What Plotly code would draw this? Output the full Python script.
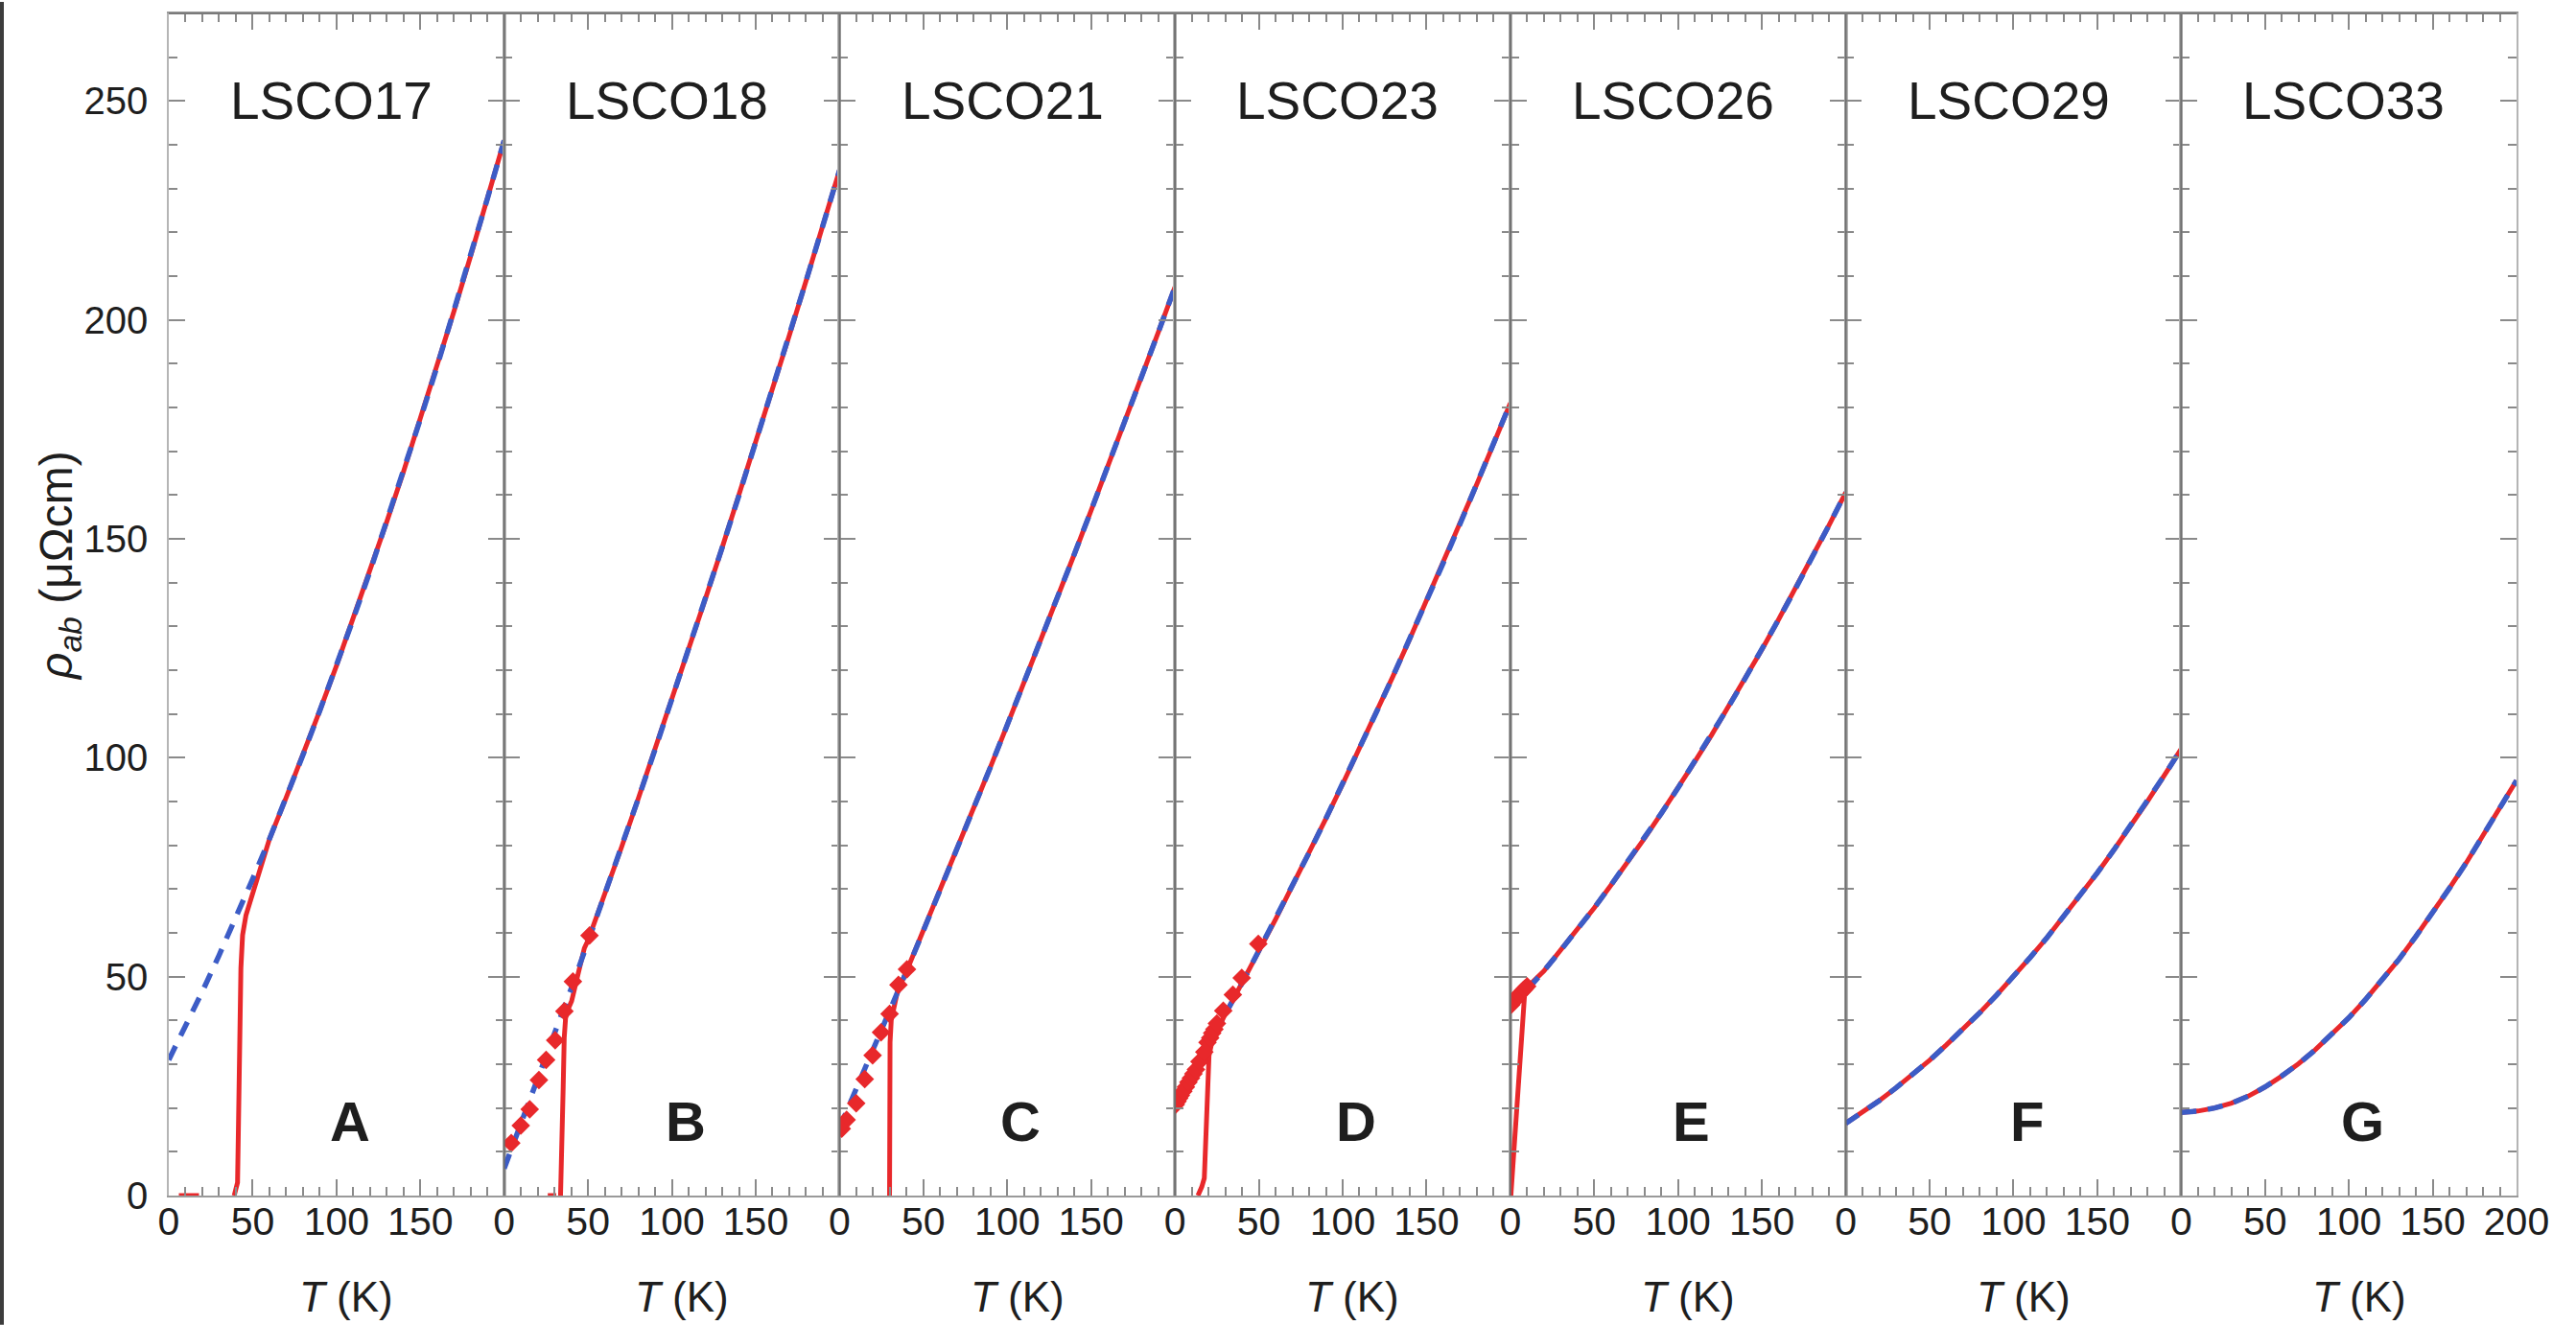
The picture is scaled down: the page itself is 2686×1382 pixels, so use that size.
import plotly.graph_objects as go

# ---------------- data ----------------
SAMPLES = ["LSCO17", "LSCO18", "LSCO21", "LSCO23", "LSCO26", "LSCO29", "LSCO33"]
LETTERS = ["A", "B", "C", "D", "E", "F", "G"]

T_FIT = [0, 10, 20, 30, 40, 50, 60, 70, 80, 90, 100, 110, 120, 130, 140, 150, 160, 170, 180, 190, 200]
FIT_A = [31.0, 38.7, 46.6, 54.9, 63.4, 72.3, 81.4, 90.9, 100.6, 110.7, 121.0, 131.7, 142.6, 153.9, 165.4, 177.3, 189.4, 201.9, 214.6, 227.7, 241.0]
FIT_B = [6.2, 16.3, 26.5, 36.8, 47.3, 58.0, 68.7, 79.6, 90.7, 101.9, 113.2, 124.7, 136.3, 148.0, 159.9, 172.0, 184.1, 196.4, 208.9, 221.5, 234.2]
FIT_C = [15.5, 24.3, 33.3, 42.3, 51.3, 60.5, 69.7, 79.1, 88.5, 97.9, 107.5, 117.1, 126.9, 136.7, 146.5, 156.5, 166.5, 176.7, 186.9, 197.1, 207.5]
FIT_D = [21.0, 27.7, 34.5, 41.4, 48.5, 55.8, 63.1, 70.6, 78.3, 86.1, 94.0, 102.1, 110.3, 118.6, 127.1, 135.8, 144.5, 153.4, 162.5, 171.7, 181.0]
FIT_E = [42.6, 46.9, 51.3, 56.0, 60.8, 65.7, 70.9, 76.2, 81.6, 87.3, 93.1, 99.1, 105.2, 111.6, 118.1, 124.7, 131.6, 138.6, 145.7, 153.1, 160.6]
FIT_F = [16.5, 19.0, 21.7, 24.6, 27.7, 30.9, 34.4, 38.0, 41.8, 45.8, 50.0, 54.4, 58.9, 63.7, 68.6, 73.7, 79.0, 84.5, 90.1, 96.0, 102.0]
FIT_G = [19.0, 19.3, 20.0, 21.1, 22.7, 24.8, 27.3, 30.1, 33.3, 36.8, 40.6, 44.8, 49.3, 54.0, 59.2, 64.6, 70.2, 76.0, 82.1, 88.4, 94.8]

RED_A_T = [6, 18, None, 39, 41, 41.5, 42, 43, 44, 46, 50, 56, 60, 70, 80, 90, 100, 110, 120, 130, 140, 150, 160, 170, 180, 190, 200]
RED_A_R = [0, 0, None, 0, 3, 15, 36, 52, 59.5, 64, 69, 76.2, 81.4, 90.9, 100.6, 110.7, 121.0, 131.7, 142.6, 153.9, 165.4, 177.3, 189.4, 201.9, 214.6, 227.7, 241.0]
RED_B_T = [26, 31, None, 33.6, 34.5, 35.2, 35.8, 36.6, 38, 40.2, 44, 47.8, 50, 60, 70, 80, 90, 100, 110, 120, 130, 140, 150, 160, 170, 180, 190, 200]
RED_B_R = [0, 0, None, 0, 10, 25, 36, 40.5, 42.5, 44.4, 50.5, 56.5, 58.3, 68.7, 79.6, 90.7, 101.9, 113.2, 124.7, 136.3, 148.0, 159.9, 172.0, 184.1, 196.4, 208.9, 221.5, 234.2]
RED_C_T = [29.8, 29.9, 30.1, 30.8, 32.5, 34.5, 40, 45, 50, 60, 70, 80, 90, 100, 110, 120, 130, 140, 150, 160, 170, 180, 190, 200]
RED_C_R = [0, 20, 35, 40, 43.5, 46.6, 51.3, 55.9, 60.5, 69.7, 79.1, 88.5, 97.9, 107.5, 117.1, 126.9, 136.7, 146.5, 156.5, 166.5, 176.7, 186.9, 197.1, 207.5]
RED_D_T = [13.7, 16, 17.5, 18.5, 19.5, 20.3, 22, 25, 30, 35, 40, 50, 60, 70, 80, 90, 100, 110, 120, 130, 140, 150, 160, 170, 180, 190, 200]
RED_D_R = [0, 2, 4, 12, 25, 32, 35, 37.5, 41.5, 45, 48.5, 55.8, 63.1, 70.6, 78.3, 86.1, 94.0, 102.1, 110.3, 118.6, 127.1, 135.8, 144.5, 153.4, 162.5, 171.7, 181.0]
RED_E_T = [0.3, 2, 4, 6, 7.5, 8.5, 10, 12, 20, 30, 40, 50, 60, 70, 80, 90, 100, 110, 120, 130, 140, 150, 160, 170, 180, 190, 200]
RED_E_R = [0, 10, 22, 35, 43, 46, 47.2, 48.3, 51.3, 56.0, 60.8, 65.7, 70.9, 76.2, 81.6, 87.3, 93.1, 99.1, 105.2, 111.6, 118.1, 124.7, 131.6, 138.6, 145.7, 153.1, 160.6]
RED_F_T = T_FIT
RED_F_R = [16.5, 19.0, 21.7, 24.6, 27.7, 30.9, 34.4, 38.0, 41.8, 45.8, 50.0, 54.4, 58.9, 63.7, 68.6, 73.7, 79.0, 84.5, 90.1, 96.0, 102.0]
RED_G_T = T_FIT
RED_G_R = [19.0, 19.3, 20.0, 21.1, 22.7, 24.8, 27.3, 30.1, 33.3, 36.8, 40.6, 44.8, 49.3, 54.0, 59.2, 64.6, 70.2, 76.0, 82.1, 88.4, 94.8]

DIA_B_T = [4.2, 9.9, 15.2, 20.7, 25, 30.4, 35.9, 41, 50.9]
DIA_B_R = [12.0, 16.0, 19.7, 26.4, 31.0, 35.5, 42.1, 48.9, 59.4]
DIA_C_T = [1.3, 4.2, 9.9, 15, 19.7, 24.7, 29.8, 35.1, 40.2]
DIA_C_R = [15.3, 17.3, 21.1, 26.6, 32.0, 37.3, 41.5, 48.1, 51.7]
DIA_D_T = [0.5, 1.5, 2.5, 3.5, 5, 6.5, 8, 9.5, 11, 12.5, 14.6, 17.5, 19.4, 21, 22.2, 23.5, 25, 28.8, 34.5, 39.8, 49.7]
DIA_D_R = [20.8, 21.5, 22.2, 22.9, 23.8, 24.8, 25.9, 26.8, 27.8, 28.8, 30.6, 32.8, 35.0, 36.0, 37.1, 38.0, 39.3, 42.2, 45.9, 49.7, 57.5]
DIA_E_T = [0.5, 1.5, 2.5, 3.5, 4.5, 5.5, 6.5, 7.5, 8.5, 10]
DIA_E_R = [43.6, 44.1, 44.6, 45.1, 45.6, 46.0, 46.4, 46.8, 47.2, 47.8]

X_TICKS = [0, 50, 100, 150]
X_TICKS_LAST = [0, 50, 100, 150, 200]
Y_TICKS = [0, 50, 100, 150, 200, 250]

# ---------------- figure ----------------
RED = "#E8282B"
BLUE = "#3C5CC6"
TXT = "#1e1e1e"
FONT = "Liberation Sans, Arial, Helvetica, sans-serif"

fits = [FIT_A, FIT_B, FIT_C, FIT_D, FIT_E, FIT_F, FIT_G]
reds = [(RED_A_T, RED_A_R), (RED_B_T, RED_B_R), (RED_C_T, RED_C_R), (RED_D_T, RED_D_R),
        (RED_E_T, RED_E_R), (RED_F_T, RED_F_R), (RED_G_T, RED_G_R)]
dias = [None, (DIA_B_T, DIA_B_R), (DIA_C_T, DIA_C_R), (DIA_D_T, DIA_D_R), (DIA_E_T, DIA_E_R), None, None]

W, H = 2686, 1382
ML, MR, MT, MB = 176, 62, 12, 135
PW, PH = W - ML - MR, H - MT - MB
N = len(SAMPLES)

fig = go.Figure()
layout = dict(
    width=W, height=H, margin=dict(l=ML, r=MR, t=MT, b=MB, pad=0),
    paper_bgcolor="white", plot_bgcolor="white", showlegend=False,
    font=dict(family=FONT, color=TXT),
)
annotations = []
shapes = []

for i in range(N):
    sx = "" if i == 0 else str(i + 1)
    xa, ya = "x" + sx, "y" + sx
    rt, rr = reds[i]
    fig.add_trace(go.Scatter(x=rt, y=rr, mode="lines", line=dict(color=RED, width=5),
                             connectgaps=False, xaxis=xa, yaxis=ya, hoverinfo="skip"))
    fig.add_trace(go.Scatter(x=T_FIT, y=fits[i], mode="lines",
                             line=dict(color=BLUE, width=5.5, dash="16px,12px"),
                             xaxis=xa, yaxis=ya, hoverinfo="skip"))
    if dias[i] is not None:
        fig.add_trace(go.Scatter(x=dias[i][0], y=dias[i][1], mode="markers",
                                 marker=dict(symbol="diamond", size=15, color=RED, line=dict(width=0)),
                                 xaxis=xa, yaxis=ya, hoverinfo="skip"))
    xt = X_TICKS_LAST if i == N - 1 else X_TICKS
    layout["xaxis" + sx] = dict(
        domain=[i / N, (i + 1) / N], anchor=ya, range=[0, 200],
        showline=True, linecolor="#9a9a9a", linewidth=1.5, mirror="ticks",
        ticks="inside", ticklen=17, tickwidth=1.5, tickcolor="#8a8a8a",
        tickvals=xt, ticktext=[str(v) for v in xt],
        tickfont=dict(size=41, color=TXT, family=FONT), ticklabelstandoff=-10,
        minor=dict(dtick=10, ticks="inside", ticklen=9, tickwidth=1.5, tickcolor="#8a8a8a"),
        showgrid=False, zeroline=False, fixedrange=True,
    )
    layout["yaxis" + sx] = dict(
        domain=[0, 1], anchor=xa, range=[0, 270],
        showline=True, linecolor="#b5b5b5", linewidth=1.5, mirror="ticks",
        ticks="inside", ticklen=17, tickwidth=1.5, tickcolor="#8a8a8a",
        tickvals=Y_TICKS, ticktext=[str(v) for v in Y_TICKS], showticklabels=(i == 0),
        tickfont=dict(size=40, color=TXT, family=FONT), ticklabelstandoff=12,
        minor=dict(dtick=10, ticks="inside", ticklen=9, tickwidth=1.5, tickcolor="#8a8a8a"),
        showgrid=False, zeroline=False, fixedrange=True,
    )
    annotations.append(dict(xref=xa, yref=ya, x=97, y=250, text=SAMPLES[i], showarrow=False,
                            font=dict(size=55, color=TXT, family=FONT)))
    annotations.append(dict(xref=xa, yref=ya, x=108, y=17, text="<b>" + LETTERS[i] + "</b>",
                            showarrow=False, font=dict(size=58, color=TXT, family=FONT)))
    annotations.append(dict(xref=xa, yref="paper", x=106, y=-(1353 - (H - MB)) / PH,
                            text="<i>T</i> (K)", showarrow=False, yanchor="middle",
                            font=dict(size=44, color=TXT, family=FONT)))
    if i > 0:
        shapes.append(dict(type="line", xref="paper", yref="paper", x0=i / N, x1=i / N, y0=0, y1=1,
                           line=dict(color="#6e6e6e", width=2), layer="above"))

# top frame darker line
shapes.append(dict(type="line", xref="paper", yref="paper", x0=0, x1=1, y0=1, y1=1,
                   line=dict(color="#7a7a7a", width=2), layer="above"))
# dark left border of the image
shapes.append(dict(type="rect", xref="paper", yref="paper",
                   x0=-ML / PW, x1=-(ML - 4) / PW, y0=-MB / PH, y1=1 + MT / PH,
                   fillcolor="#3c3c3c", line=dict(width=0), layer="above"))

annotations.append(dict(xref="paper", yref="paper", x=-(ML - 62) / PW, y=(1247 - 589) / PH,
                        text="<i>ρ</i><sub><i>ab</i></sub> (μΩcm)", textangle=-90, showarrow=False,
                        xanchor="center", yanchor="middle",
                        font=dict(size=48, color=TXT, family=FONT)))

layout["annotations"] = annotations
layout["shapes"] = shapes
fig.update_layout(**layout)
fig.write_html("out.html", config={"displayModeBar": False},
               post_script="document.body.style.margin='0';document.body.style.overflow='hidden';")
